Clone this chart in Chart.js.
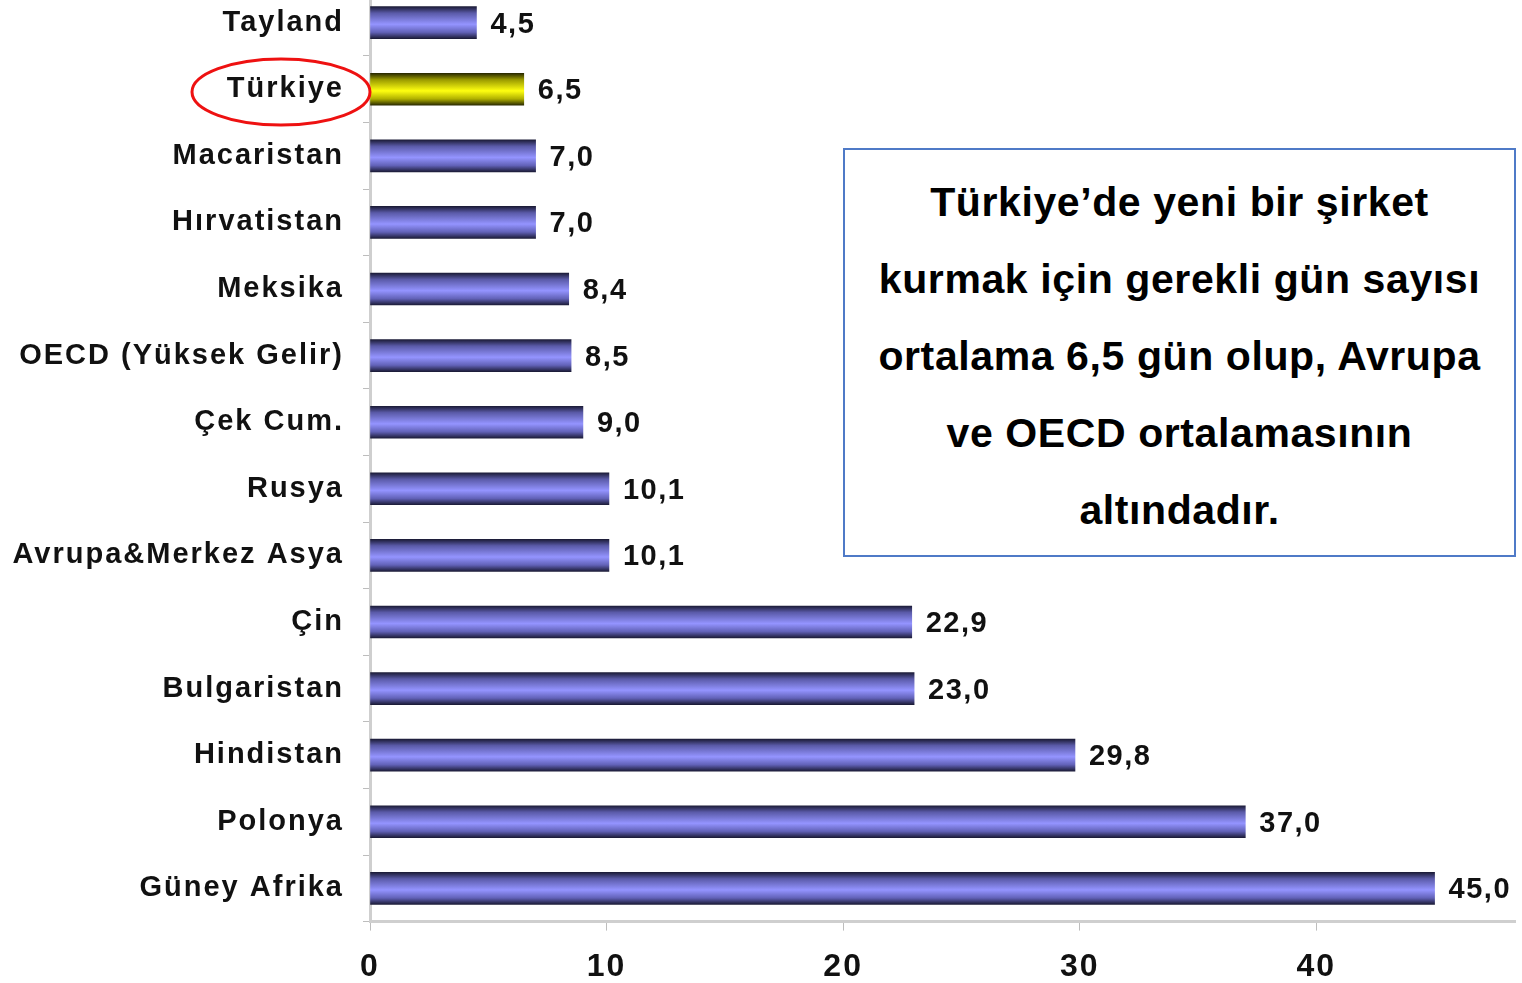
<!DOCTYPE html>
<html>
<head>
<meta charset="utf-8">
<script src="https://cdn.jsdelivr.net/npm/chart.js@4.4.0/dist/chart.umd.min.js"></script>
<style>
  html, body { margin: 0; padding: 0; background: #fff; overflow: hidden; }
  #wrap { position: relative; width: 1522px; height: 983px; overflow: hidden; }
  #chartBox { position: absolute; left: 0; top: -47px; width: 1522px; height: 1050px; }
  #note {
    position: absolute; left: 843px; top: 148px; width: 673px; height: 409px;
    border: 2px solid #4f7ac7; box-sizing: border-box; background: #fff;
    font-family: "Liberation Sans", Arial, sans-serif; font-weight: bold;
    font-size: 41px; line-height: 77px; text-align: center; color: #000;
    letter-spacing: 0.6px; padding-top: 14px;
  }
  #ring { position: absolute; left: 0; top: 0; pointer-events: none; }
</style>
</head>
<body>
<div id="wrap">
  <div id="chartBox"><canvas id="barChart"></canvas></div>
  <div id="note">Türkiye’de yeni bir şirket<br>kurmak için gerekli gün sayısı<br>ortalama 6,5 gün olup, Avrupa<br>ve OECD ortalamasının<br>altındadır.</div>
  <svg id="ring" width="400" height="140">
    <ellipse cx="281" cy="92" rx="89" ry="33" fill="none" stroke="#ee1111" stroke-width="3"></ellipse>
  </svg>
</div>
<script>
const countries = ['Tayland', 'Türkiye', 'Macaristan', 'Hırvatistan', 'Meksika', 'OECD (Yüksek Gelir)', 'Çek Cum.', 'Rusya', 'Avrupa&Merkez Asya', 'Çin', 'Bulgaristan', 'Hindistan', 'Polonya', 'Güney Afrika'];
const days = [4.5, 6.5, 7.0, 7.0, 8.4, 8.5, 9.0, 10.1, 10.1, 22.9, 23.0, 29.8, 37.0, 45.0];
const xTicks = [0, 10, 20, 30, 40];
const highlight = 'Türkiye';

const FONT = '"Liberation Sans", Arial, sans-serif';

// gradient per bar, dark edges, light middle
function barFill(c) {
    const chart = c.chart;
    if (!chart.chartArea || !chart.scales.y) return '#8888ff';
    const yc = chart.scales.y.getPixelForValue(c.dataIndex);
    const g = chart.ctx.createLinearGradient(0, yc - 16, 0, yc + 16);
    if (countries[c.dataIndex] === highlight) {
        g.addColorStop(0, '#2a2a00');
        g.addColorStop(0.2, '#9a9a00');
        g.addColorStop(0.55, '#ffff10');
        g.addColorStop(0.8, '#b0b000');
        g.addColorStop(1, '#2a2a00');
    } else {
        g.addColorStop(0, '#1c1c38');
        g.addColorStop(0.2, '#5a5aa8');
        g.addColorStop(0.55, '#9494ff');
        g.addColorStop(0.8, '#6262b8');
        g.addColorStop(1, '#1c1c38');
    }
    return g;
}

// a bit of spacing between letters like the original
const spacing = {
    id: 'spacing',
    beforeUpdate(chart) { chart.ctx.letterSpacing = '2px'; },
    beforeDraw(chart) { chart.ctx.letterSpacing = '2px'; }
};

const valueLabels = {
    id: 'valueLabels',
    afterDatasetsDraw(chart) {
        const ctx = chart.ctx;
        const meta = chart.getDatasetMeta(0);
        ctx.save();
        ctx.letterSpacing = '1.5px';
        ctx.font = 'bold 29px ' + FONT;
        ctx.fillStyle = '#111';
        ctx.textAlign = 'left';
        ctx.textBaseline = 'middle';
        meta.data.forEach(function(bar, i) {
            ctx.fillText(days[i].toFixed(1).replace('.', ','), bar.x + 14, bar.y + 2);
        });
        ctx.restore();
    }
};

const chart = new Chart(document.getElementById('barChart'), {
    type: 'bar',
    data: {
        labels: countries,
        datasets: [{
            data: days,
            backgroundColor: barFill,
            borderWidth: 0,
            barThickness: 32
        }]
    },
    options: {
        indexAxis: 'y',
        responsive: true,
        maintainAspectRatio: false,
        animation: false,
        layout: { padding: { left: 0, right: 7, top: 0, bottom: 0 } },
        plugins: {
            legend: { display: false },
            tooltip: { enabled: false }
        },
        scales: {
            x: {
                min: 0,
                max: 48.4,
                afterBuildTicks: function(axis) {
                    axis.ticks = xTicks.map(function(v) { return { value: v }; });
                },
                grid: { drawOnChartArea: false, drawTicks: true, tickLength: 9, color: '#bdbdbd' },
                border: { color: '#cfcfcf', width: 3 },
                ticks: {
                    color: '#111',
                    padding: 17,
                    font: { family: FONT, size: 32, weight: 'bold' }
                }
            },
            y: {
                afterFit: function(axis) { axis.width = 370; },
                grid: { drawOnChartArea: false, offset: true, tickLength: 7, color: '#bdbdbd' },
                border: { color: '#cfcfcf', width: 3 },
                ticks: {
                    color: '#111',
                    padding: 19,
                    font: { family: FONT, size: 29, weight: 'bold' }
                }
            }
        }
    },
    plugins: [spacing, valueLabels]
});
</script>
</body>
</html>
